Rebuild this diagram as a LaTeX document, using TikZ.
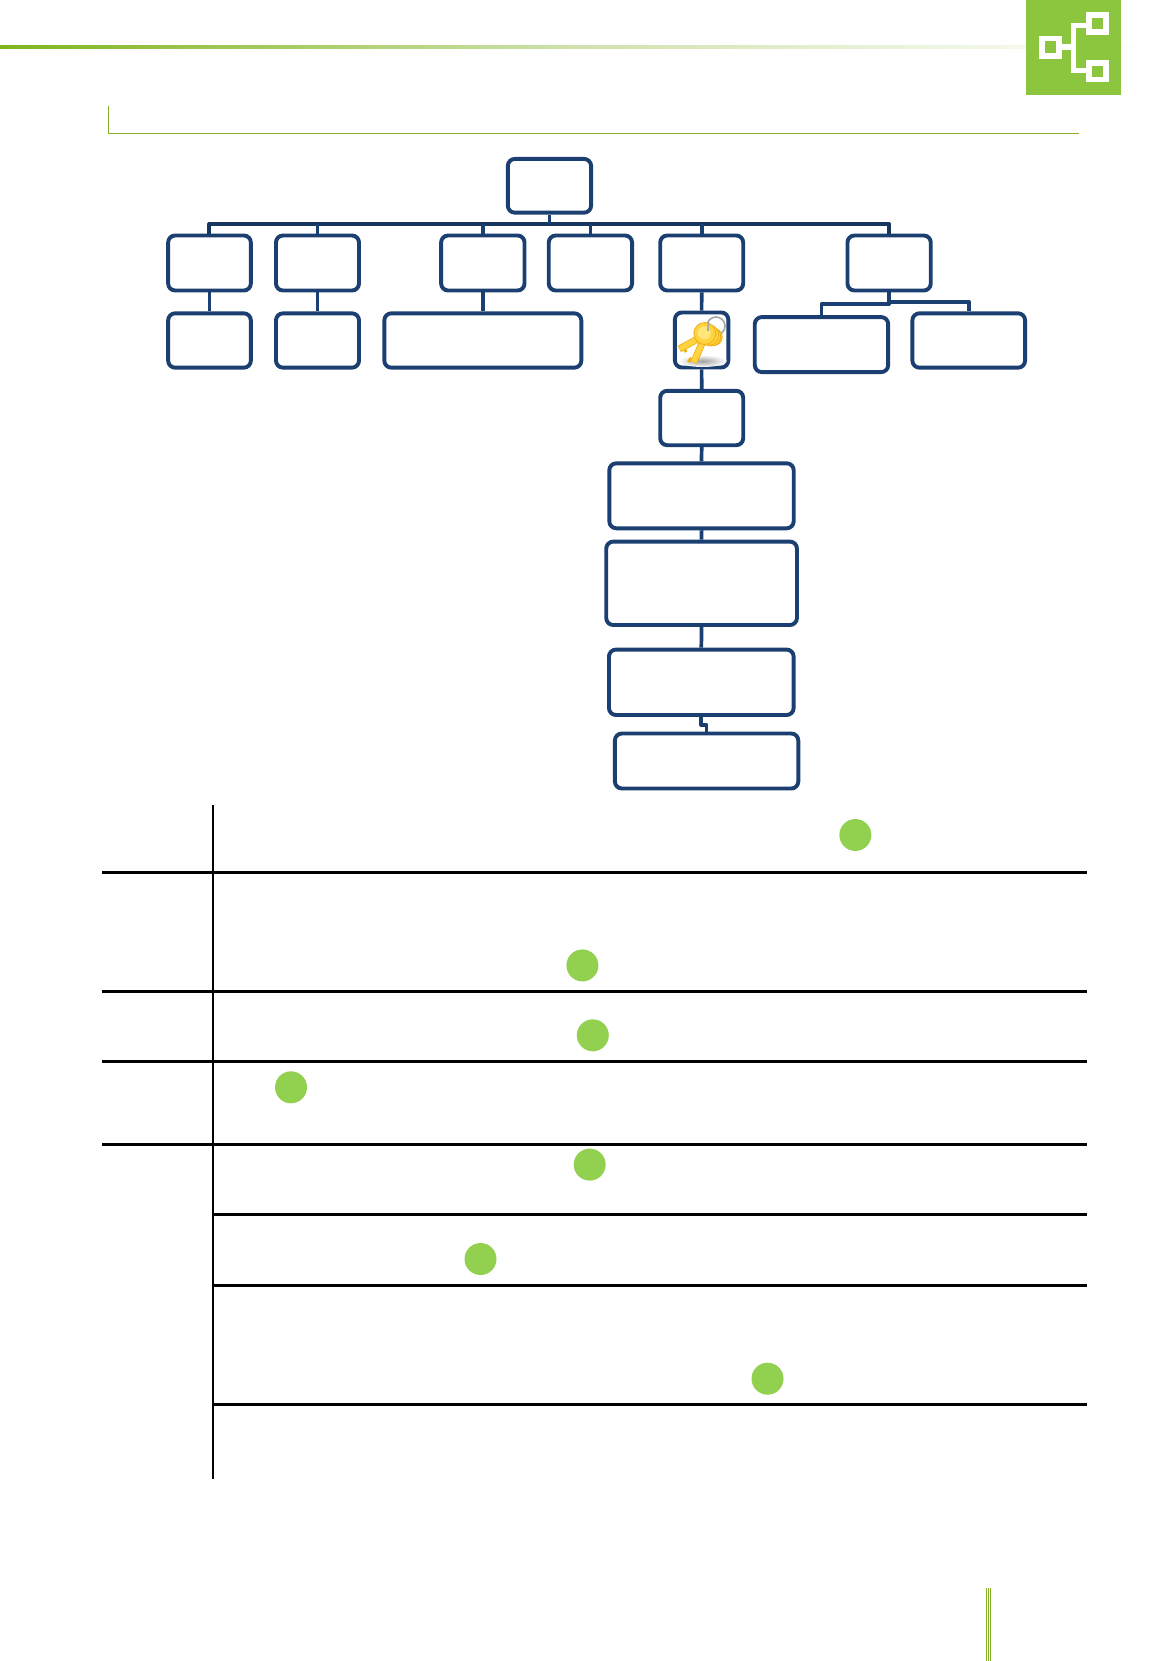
\documentclass[tikz,border=0pt]{standalone}
\definecolor{navy}{HTML}{1A3F70}
\definecolor{navydk}{HTML}{17375E}
\definecolor{bullet}{HTML}{92D050}
\definecolor{tile}{HTML}{8CC63F}
\definecolor{rulegreen}{HTML}{86B02A}
\definecolor{headgreen}{HTML}{7FB51C}
\definecolor{headmid}{HTML}{CFE2AC}
\definecolor{gold}{HTML}{FFD23F}
\definecolor{goldedge}{HTML}{EDB016}
\definecolor{goldlight}{HTML}{FFE67A}
\definecolor{ringgray}{HTML}{A8A8A8}
\tikzset{
  orgbox/.style={draw=navy,line width=3.9pt,rounded corners=7pt,fill=white,inner sep=0pt},
  link/.style={draw=navy,line width=3.7pt,line join=round},
  tablerule/.style={draw=black,line width=2.7pt},
  dot/.style={circle,fill=bullet,inner sep=0pt,minimum size=32pt},
  iconline/.style={draw=white,line width=5.6pt},
  keyfill/.style={fill=gold,draw=goldedge,line width=0.8pt,line join=round},
  shaftedge/.style={draw=goldedge,line width=7pt},
  shaftfill/.style={draw=gold,line width=5.4pt}
}
\begin{document}
\begin{tikzpicture}[x=0.999pt,y=-1pt]
\useasboundingbox (0,0) rectangle (1152.65,1661);
% header rule and icon
\shade[left color=headgreen,right color=headmid] (0,46) rectangle (576,49);
\shade[left color=headmid,right color=white] (576,46) rectangle (1152.65,49);
\fill[tile] (1027,0) rectangle (1122.3,95);
\draw[iconline] (1042.8,38.5) rectangle (1059.9,56.2);
\draw[iconline] (1090.1,14.8) rectangle (1107.2,31.9);
\draw[iconline] (1090.1,62.8) rectangle (1107.2,79.5);
\draw[iconline] (1062.7,47.2) -- (1074.5,47.2);
\draw[iconline] (1087.3,25.5) -- (1074.5,25.5) -- (1074.5,70.5) -- (1087.3,70.5);
% section rule
\draw[rulegreen,line width=0.8pt] (108.6,106) -- (108.6,133.3);
\draw[rulegreen,line width=1.2pt] (108.2,133.3) -- (1080,133.3);
% org boxes
\node[orgbox,minimum width=83.3pt,minimum height=53.7pt] (root) at (550,185.8) {};
\node[orgbox,minimum width=82.7pt,minimum height=55pt] (a1) at (209.7,263) {};
\node[orgbox,minimum width=83pt,minimum height=55pt] (a2) at (317.8,263) {};
\node[orgbox,minimum width=83.4pt,minimum height=55pt] (a3) at (483.3,263) {};
\node[orgbox,minimum width=83.3pt,minimum height=55pt] (a4) at (591,263) {};
\node[orgbox,minimum width=83pt,minimum height=55pt] (a5) at (702.4,263) {};
\node[orgbox,minimum width=83.3pt,minimum height=55pt] (a6) at (890,263) {};
\node[orgbox,minimum width=82.7pt,minimum height=54.3pt] (c1) at (209.7,340.5) {};
\node[orgbox,minimum width=83pt,minimum height=54.3pt] (c2) at (317.8,340.5) {};
\node[orgbox,minimum width=197pt,minimum height=54.3pt] (c3) at (483.3,340.5) {};
\node[orgbox,minimum width=53.4pt,minimum height=55pt] (keybox) at (702.3,340) {};
\node[orgbox,minimum width=133.4pt,minimum height=55pt] (c5) at (822.3,344.6) {};
\node[orgbox,minimum width=112.7pt,minimum height=54.3pt] (c6) at (969.7,340.5) {};
\node[orgbox,minimum width=83pt,minimum height=54.4pt] (d1) at (702.4,418) {};
\node[orgbox,minimum width=184.4pt,minimum height=65pt] (d2) at (702.2,495.8) {};
\node[orgbox,minimum width=190.7pt,minimum height=83.4pt] (d3) at (702.3,583.3) {};
\node[orgbox,minimum width=184.7pt,minimum height=65.4pt] (d4) at (702,682.3) {};
\node[orgbox,minimum width=183.4pt,minimum height=55pt] (d5) at (707.3,761) {};
% connectors
\coordinate (busy) at (0,224);
\coordinate (lowL) at (822.3,304);
\coordinate (lowR) at (969.7,301.7);
\coordinate (jog) at (704,725);
\draw[draw=navydk,line width=4pt,line join=round] (a1.north) -- (a1.north |- busy) -- (a6.north |- busy) -- (a6.north);
\draw[link] (root.south) -- (root.south |- busy);
\foreach \n in {a2,a3,a4,a5} \draw[link] (\n.north) -- (\n.north |- busy);
\draw[link] (a1.south) -- (c1.north);
\draw[link] (a2.south) -- (c2.north);
\draw[link] (a3.south) -- (c3.north);
\draw[link] (a5.south) -- (keybox.north);
\draw[link] (keybox.south) -- (d1.north);
\draw[link] (d1.south) -- (d2.north);
\draw[link] (d2.south) -- (d3.north);
\draw[link] (d3.south) -- (d4.north);
\draw[link] (d4.south) |- (jog) -| (d5.north);
\draw[link] (a6.south) |- (lowL) -- (c5.north);
\draw[link] (a6.south) |- (lowR) -- (c6.north);
% keys
\shade[inner color=gray!75,outer color=white] (703.3,361) ellipse [x radius=24pt,y radius=6pt];
\draw[ringgray,line width=1.7pt] (716.7,326) circle [radius=9pt];
\draw[shaftedge] (704,340) -- (694.5,362.5);
\draw[draw=goldedge,line width=3pt] (692,358) -- (689,362);
\draw[shaftfill] (704,340) -- (694.5,362);
\draw[shaftedge] (702,337) -- (680,349);
\draw[draw=goldedge,line width=3pt] (684,348) -- (687,352);
\draw[shaftfill] (702,337) -- (680.5,348.7);
\draw[keyfill] (714.5,337) circle [radius=8.5pt];
\draw[keyfill] (712,336.5) circle [radius=9.5pt];
\draw[keyfill] (709,335) circle [radius=10.5pt];
\draw[keyfill] (705.5,333.5) circle [radius=11pt];
\fill[goldlight] (705,333) circle [radius=6.5pt];
\draw[ringgray,line width=1.7pt] (708.7,331) -- (709,322);
% table rules
\draw[tablerule] (213.3,805) -- (213.3,1479);
\foreach \y in {872.3,991.3,1061.3,1144.3} \draw[tablerule] (102,\y) -- (1088,\y);
\foreach \y in {1214.3,1285.3,1404.3} \draw[tablerule] (213.3,\y) -- (1088,\y);
% bullets
\node[dot] (p1) at (856.2,835) {};
\node[dot] (p2) at (583,965.4) {};
\node[dot] (p3) at (593.4,1035.3) {};
\node[dot] (p4) at (291.3,1087.3) {};
\node[dot] (p5) at (590.3,1164.6) {};
\node[dot] (p6) at (481,1259) {};
\node[dot] (p7) at (768.3,1378.7) {};
% footer rule
\foreach \x in {987.5,989.5,991.5} \draw[rulegreen,line width=1pt] (\x,1588) -- (\x,1661);
\end{tikzpicture}
\end{document}
